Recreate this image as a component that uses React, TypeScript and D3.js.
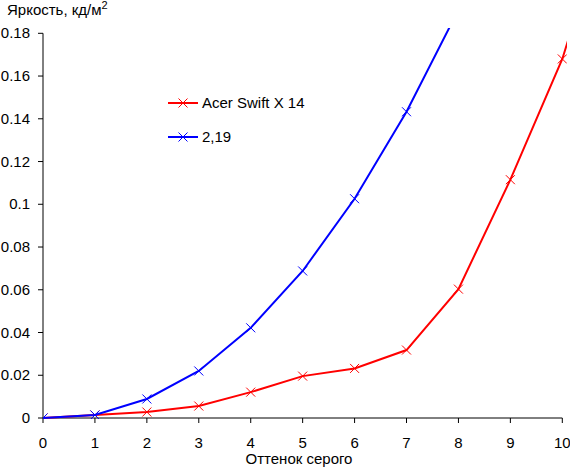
import * as d3 from "d3";

const grayLevels = [0, 1, 2, 3, 4, 5, 6, 7, 8, 9, 10, 11];
const acerValues = [0, 0.0014, 0.0028, 0.0056, 0.0121, 0.0196, 0.0232, 0.0318, 0.0603, 0.1115, 0.168, 0.246];
const gammaValues = [0, 0.0014, 0.0089, 0.022, 0.0422, 0.0688, 0.1026, 0.1433, 0.191, 0.248, 0.312, 0.38];
const xTicks = [0, 1, 2, 3, 4, 5, 6, 7, 8, 9, 10];
const yTicks = [0, 0.02, 0.04, 0.06, 0.08, 0.1, 0.12, 0.14, 0.16, 0.18];
const seriesNames = ["Acer Swift X 14", "2,19"];
const seriesColors = ["#ff0000", "#0000ff"];

const width = 570;
const height = 468;
const margin = { top: 33.3, right: 7.7, bottom: 50, left: 43 };
const font = "'Liberation Sans', Arial, sans-serif";

export default function App() {
  const x = d3.scaleLinear().domain([0, 10]).range([margin.left, width - margin.right]);
  const y = d3.scaleLinear().domain([0, 0.18]).range([height - margin.bottom, margin.top]);

  const line = d3
    .line<number>()
    .x((_, i) => x(grayLevels[i]))
    .y((d) => y(d));

  const series = [acerValues, gammaValues];
  const cross = (cx: number, cy: number, r = 4.5) =>
    `M${cx - r},${cy - r}L${cx + r},${cy + r}M${cx - r},${cy + r}L${cx + r},${cy - r}`;

  const x0 = x(0);
  const y0 = y(0);

  return (
    <svg
      width={width}
      height={height}
      style={{ position: "absolute", left: 0, top: 0, background: "#fff" }}
      fontFamily={font}
    >
      <defs>
        <clipPath id="plot">
          <rect x={x0} y={28} width={567 - x0} height={y0 - 28 + 1} />
        </clipPath>
      </defs>

      {/* axes */}
      <line x1={x0} x2={x0} y1={y(0.18)} y2={y0} stroke="#000" strokeWidth={1} />
      <line x1={x0} x2={x(10)} y1={y0} y2={y0} stroke="#000" strokeWidth={1} />
      {yTicks.map((t) => (
        <g key={t}>
          <line x1={x0 - 5} x2={x0} y1={y(t)} y2={y(t)} stroke="#000" />
          <text x={30} y={y(t) + 5} fontSize={15} textAnchor="end" fill="#000">
            {String(t)}
          </text>
        </g>
      ))}
      {xTicks.map((t) => (
        <g key={t}>
          <line x1={x(t)} x2={x(t)} y1={y0} y2={y0 + 5} stroke="#000" />
          <text x={x(t)} y={448} fontSize={15} textAnchor="middle" fill="#000">
            {t}
          </text>
        </g>
      ))}

      <text x={299} y={464} fontSize={15} textAnchor="middle" fill="#000">
        Оттенок серого
      </text>
      <text x={7} y={15} fontSize={15} fill="#000">
        Яркость, кд/м<tspan fontSize={11} dy={-6}>2</tspan>
      </text>

      {/* series */}
      <g clipPath="url(#plot)">
        {series.map((vals, si) => (
          <g key={si}>
            <path d={line(vals) ?? ""} fill="none" stroke={seriesColors[si]} strokeWidth={2} />
            {vals.map((v, i) =>
              grayLevels[i] <= 10 ? (
                <path key={i} d={cross(x(grayLevels[i]), y(v))} stroke={seriesColors[si]} strokeWidth={1} fill="none" />
              ) : null
            )}
          </g>
        ))}
      </g>

      {/* legend */}
      {seriesNames.map((name, i) => {
        const ly = 103 + i * 34;
        return (
          <g key={name}>
            <line x1={168} x2={198} y1={ly} y2={ly} stroke={seriesColors[i]} strokeWidth={2} />
            <path d={cross(183, ly)} stroke={seriesColors[i]} strokeWidth={1} fill="none" />
            <text x={202} y={ly + 5} fontSize={15} fill="#000">
              {name}
            </text>
          </g>
        );
      })}
    </svg>
  );
}
